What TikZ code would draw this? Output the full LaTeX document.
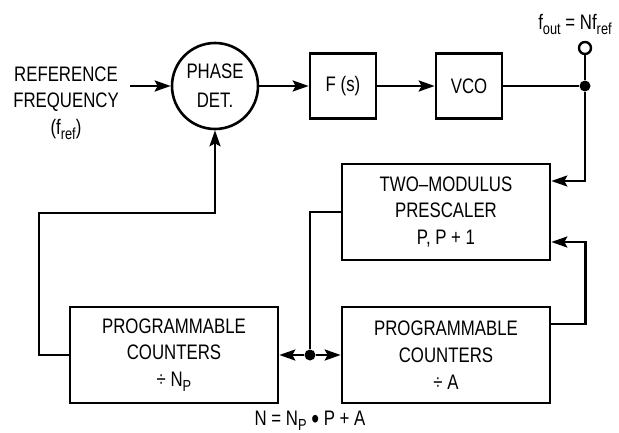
\documentclass[tikz,border=0pt]{standalone}
\usepackage{fontspec}
\setmainfont{Liberation Sans}[FakeStretch=0.8]
\usetikzlibrary{arrows.meta,calc}
\newcommand\subtx[1]{\raisebox{-0.45ex}{\fontsize{16}{16}\selectfont #1}}
\newcommand\bigbul{{\fontsize{28}{28}\selectfont\raisebox{-2.5pt}{•}}}
\begin{document}
\begin{tikzpicture}[x=1pt,y=-1pt,
  every node/.style={font=\fontsize{21}{26.7}\selectfont, align=center, inner sep=0pt},
  blk/.style={draw, line width=2.6pt, minimum width=208pt, minimum height=96pt},
  sblk/.style={draw, line width=2.6pt, minimum width=66pt, minimum height=65pt},
  wire/.style={line width=2.6pt},
  arr/.style={wire, -{Stealth[length=16pt,width=11pt,inset=3pt]}},
  jdot/.style={circle, fill=black, minimum size=11pt},
  odot/.style={circle, draw, fill=white, line width=2.4pt, minimum size=12pt}]
\useasboundingbox (0,0) rectangle (619,433);
\node[draw, circle, line width=2.6pt, minimum size=86pt] (phase) at (215,86) {PHASE\\[2pt]DET.};
\node (ref) at (66,103) {REFERENCE\\FREQUENCY\\(f\subtx{ref})};
\coordinate (refin) at (130,86);
\node[sblk] (fs) at (343,86) {F (s)};
\node[sblk] (vco) at (469,86) {VCO};
\node[jdot] (dtop) at (585,86) {};
\node[odot] (out) at (585,48) {};
\node (outlbl) at (575,24) {f\subtx{out} = Nf\subtx{ref}};
\node[blk] (presc) at (446,212) {TWO–MODULUS\\PRESCALER\\P, P + 1};
\node[blk] (cntP) at (174,355) {PROGRAMMABLE\\COUNTERS\\÷ N\subtx{P}};
\node[blk] (cntA) at (446,355) {PROGRAMMABLE\\COUNTERS\\÷ A};
\node[jdot] (dbot) at (310,355) {};
\node (eq) at (310,421) {N = N\subtx{P} \bigbul{} P + A};
\coordinate (corner) at (39,213);

\draw[arr] (refin) -- (phase);
\draw[arr] (phase) -- (fs);
\draw[arr] (fs) -- (vco);
\draw[wire] (vco) -- (dtop);
\draw[wire] (out) -- (dtop);
\draw[arr] (dtop) |- ([yshift=31pt]presc.east);
\draw[arr] ([yshift=31pt]cntA.east) -- ++(34,0) |- ([yshift=-30pt]presc.east);
\draw[wire] (presc.west) -| (dbot);
\draw[arr] (dbot) -- (cntP.east);
\draw[arr] (dbot) -- (cntA.west);
\draw[arr] (cntP.west) -| (corner) -| (phase.south);
\end{tikzpicture}
\end{document}
